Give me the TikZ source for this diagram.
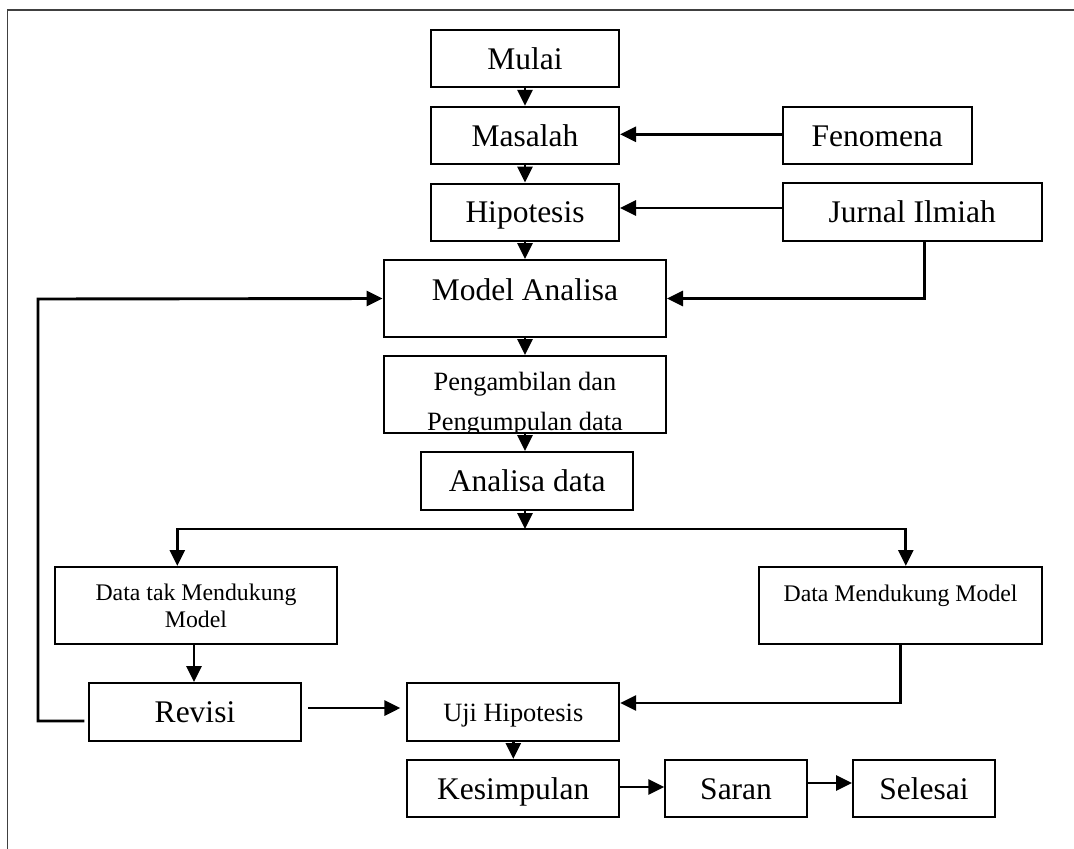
\documentclass[tikz,border=0pt]{standalone}
\usepackage{fontspec}
\setmainfont{Liberation Serif}
\usetikzlibrary{arrows.meta,calc}
\newcommand{\bigfont}{\fontsize{31.5}{35}\selectfont}
\newcommand{\midfont}{\fontsize{26.4}{38}\selectfont}
\newcommand{\datfont}{\fontsize{23.8}{27}\selectfont}
\tikzset{
  boxline/.style={draw, line width=2pt, inner sep=0pt},
  bigbox/.style={boxline, text height=21.7pt, text depth=0pt, font=\bigfont},
  midbox/.style={boxline, text height=18pt, text depth=0pt, font=\midfont},
  datbox/.style={boxline, align=center, font=\datfont},
  arr/.style={line width=2.9pt, -{Triangle[length=16pt,width=15pt]}},
}
\begin{document}
\begin{tikzpicture}[x=1pt, y=-1pt]
\useasboundingbox (0,0) rectangle (1074,849);
\draw[line width=1.4pt, black!75] (7.6,10) rectangle (1090,870);
\coordinate (spine) at (525,0);
\coordinate (split) at (525,529);
\coordinate (back) at (38,299);

\node[bigbox, minimum width=188pt, minimum height=57pt] (mulai) at (525,58.7) {Mulai};
\node[bigbox, minimum width=188pt, minimum height=57pt] (masalah) at (525,135.3) {Masalah};
\node[bigbox, minimum width=188pt, minimum height=57pt] (hipotesis) at (525,212) {Hipotesis};
\node[bigbox, minimum width=189pt, minimum height=57pt] (fenomena) at (877.2,135.3) {Fenomena};
\node[bigbox, minimum width=259pt, minimum height=58pt] (jurnal) at (912.2,212) {Jurnal Ilmiah};
\node[boxline, minimum width=282.5pt, minimum height=77pt] (model) at (524.8,298.5) {};
\node[bigbox, draw=none] (modeltxt) at (525,289.5) {Model Analisa};
\node[font=\midfont, inner sep=0pt, anchor=base] (pengtxta) at (525,390) {Pengambilan dan};
\node[font=\midfont, inner sep=0pt, anchor=base] (pengtxtb) at (525,430) {Pengumpulan data};
\fill[white] (380,434) rectangle (670,446);
\node[boxline, minimum width=282.5pt, minimum height=77pt] (peng) at (524.8,394.5) {};
\node[bigbox, minimum width=212.4pt, minimum height=58pt] (analisa) at (527.2,481) {Analisa data};
\node[datbox, minimum width=282pt, minimum height=77pt] (datatak) at (196,605.5) {Data tak Mendukung\\Model};
\node[boxline, minimum width=282.4pt, minimum height=77pt] (datadukung) at (900.6,605.5) {};
\node[font=\datfont, inner sep=0pt, anchor=base] (dukungtxt) at (900.6,601) {Data Mendukung Model};
\node[bigbox, minimum width=212.5pt, minimum height=58pt] (revisi) at (195,712) {Revisi};
\node[midbox, minimum width=211.8pt, minimum height=58pt] (uji) at (513.3,712) {Uji Hipotesis};
\node[bigbox, minimum width=211.8pt, minimum height=57pt] (kesimpulan) at (513.3,788.5) {Kesimpulan};
\node[bigbox, minimum width=141.6pt, minimum height=57pt] (saran) at (736.1,788.5) {Saran};
\node[bigbox, minimum width=142pt, minimum height=57pt] (selesai) at (924,788.5) {Selesai};

\foreach \a/\b in {mulai/masalah, masalah/hipotesis, hipotesis/model, model/peng, peng/analisa}
  \draw[arr] (\a.south -| spine) -- (\b.north -| spine);
\draw[arr] ([yshift=1pt]fenomena.west) -- ([yshift=1pt]masalah.east);
\draw[arr] ([yshift=4pt]jurnal.west) -- ([yshift=4pt]hipotesis.east);
\draw[arr] ([xshift=12.3pt]jurnal.south) |- (model.east);
\draw[arr] (analisa.south -| spine) -- (split);
\draw[arr] (split) -| ([xshift=-18.7pt]datatak.north);
\draw[arr] (split) -| ([xshift=5.2pt]datadukung.north);
\draw[arr] ([xshift=-2pt]datatak.south) -- ([xshift=-2pt]datatak.south |- revisi.north);
\draw[arr] ([xshift=-3.4pt,yshift=-9pt]revisi.west) -| (back) -- (model.west);
\draw[arr, shorten <=6pt, shorten >=6pt] ([yshift=4pt]revisi.east) -- ([yshift=4pt]uji.west);
\draw[arr] (datadukung.south) |- ([yshift=9pt]uji.east);
\draw[arr] (uji.south) -- (kesimpulan.north);
\draw[arr] ([yshift=1.5pt]kesimpulan.east) -- ([yshift=1.5pt]saran.west);
\draw[arr] ([yshift=5.5pt]saran.east) -- ([yshift=5.5pt]selesai.west);
\end{tikzpicture}
\end{document}
